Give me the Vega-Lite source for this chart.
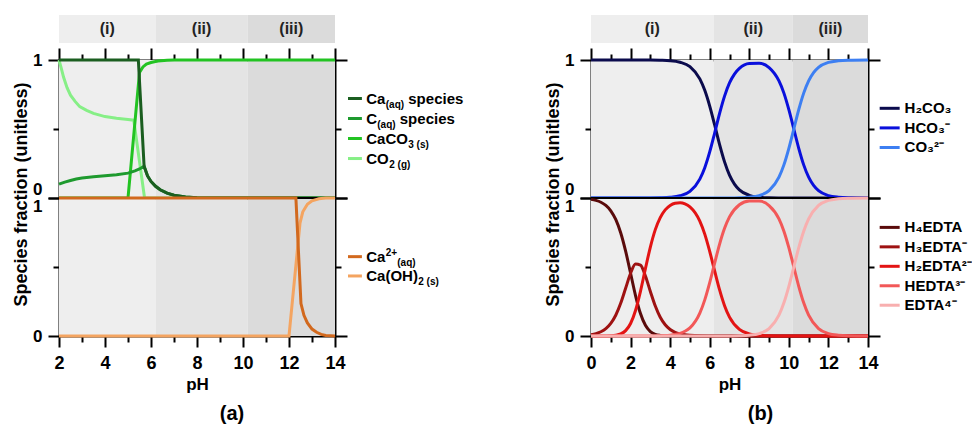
{
"$schema":"https://vega.github.io/schema/vega-lite/v6.json",
"background":"white",
"padding":{"left":12,"top":15,"right":5,"bottom":5},
"config":{
 "font":"Liberation Sans",
 "view":{"stroke":null},
 "legend":{"disable":true},
 "axis":{"grid":false,"zindex":1,"domainColor":"black","domainWidth":2,"tickColor":"black","tickWidth":2,"labelColor":"black","labelFont":"Liberation Sans","labelFontWeight":"bold","labelFontSize":17,"labelFlush":false,"labelOverlap":false,"titleColor":"black","titleFont":"Liberation Sans","titleFontWeight":"bold","titleFontSize":17},
 "title":{"font":"Liberation Sans","fontWeight":"bold","fontSize":20,"color":"black"}
},
"datasets":{
 "regA":[{"region":"(i)","start":2,"end":6.2},{"region":"(ii)","start":6.2,"end":10.2},{"region":"(iii)","start":10.2,"end":14}],
 "regB":[{"region":"(i)","start":0,"end":6.2},{"region":"(ii)","start":6.2,"end":10.2},{"region":"(iii)","start":10.2,"end":14}],
 "aTop":[
  {"s":"CO2(g)","pH":2,"f":1},{"s":"CO2(g)","pH":2.1,"f":0.94},{"s":"CO2(g)","pH":2.2,"f":0.875},{"s":"CO2(g)","pH":2.35,"f":0.8},{"s":"CO2(g)","pH":2.5,"f":0.745},{"s":"CO2(g)","pH":2.7,"f":0.7},{"s":"CO2(g)","pH":2.9,"f":0.662},{"s":"CO2(g)","pH":3.2,"f":0.635},{"s":"CO2(g)","pH":3.5,"f":0.613},{"s":"CO2(g)","pH":4,"f":0.59},{"s":"CO2(g)","pH":4.5,"f":0.578},{"s":"CO2(g)","pH":5,"f":0.569},{"s":"CO2(g)","pH":5.25,"f":0.564},{"s":"CO2(g)","pH":5.72,"f":0},{"s":"CO2(g)","pH":14,"f":0},
  {"s":"CaCO3(s)","pH":2,"f":0},{"s":"CaCO3(s)","pH":5,"f":0},{"s":"CaCO3(s)","pH":5.5,"f":0.91},{"s":"CaCO3(s)","pH":5.65,"f":0.95},{"s":"CaCO3(s)","pH":5.8,"f":0.97},{"s":"CaCO3(s)","pH":6,"f":0.982},{"s":"CaCO3(s)","pH":6.3,"f":0.993},{"s":"CaCO3(s)","pH":6.7,"f":0.998},{"s":"CaCO3(s)","pH":7,"f":1},{"s":"CaCO3(s)","pH":14,"f":1},
  {"s":"C(aq) species","pH":2,"f":0.1},{"s":"C(aq) species","pH":2.25,"f":0.115},{"s":"C(aq) species","pH":2.5,"f":0.127},{"s":"C(aq) species","pH":2.75,"f":0.138},{"s":"C(aq) species","pH":3,"f":0.145},{"s":"C(aq) species","pH":3.5,"f":0.154},{"s":"C(aq) species","pH":4,"f":0.161},{"s":"C(aq) species","pH":4.5,"f":0.168},{"s":"C(aq) species","pH":5,"f":0.18},{"s":"C(aq) species","pH":5.3,"f":0.197},{"s":"C(aq) species","pH":5.5,"f":0.21},{"s":"C(aq) species","pH":5.7,"f":0.23},{"s":"C(aq) species","pH":5.85,"f":0.16},{"s":"C(aq) species","pH":6,"f":0.12},{"s":"C(aq) species","pH":6.2,"f":0.085},{"s":"C(aq) species","pH":6.4,"f":0.06},{"s":"C(aq) species","pH":6.7,"f":0.035},{"s":"C(aq) species","pH":7,"f":0.02},{"s":"C(aq) species","pH":7.5,"f":0.007},{"s":"C(aq) species","pH":8,"f":0.002},{"s":"C(aq) species","pH":9,"f":0},{"s":"C(aq) species","pH":14,"f":0},
  {"s":"Ca(aq) species","pH":2,"f":1},{"s":"Ca(aq) species","pH":5.45,"f":1},{"s":"Ca(aq) species","pH":5.7,"f":0.23},{"s":"Ca(aq) species","pH":5.85,"f":0.16},{"s":"Ca(aq) species","pH":6,"f":0.12},{"s":"Ca(aq) species","pH":6.2,"f":0.085},{"s":"Ca(aq) species","pH":6.4,"f":0.06},{"s":"Ca(aq) species","pH":6.7,"f":0.035},{"s":"Ca(aq) species","pH":7,"f":0.02},{"s":"Ca(aq) species","pH":7.5,"f":0.007},{"s":"Ca(aq) species","pH":8,"f":0.002},{"s":"Ca(aq) species","pH":9,"f":0},{"s":"Ca(aq) species","pH":14,"f":0}
 ],
 "aBot":[
  {"s":"Ca(OH)2(s)","pH":2,"f":0},{"s":"Ca(OH)2(s)","pH":12,"f":0},{"s":"Ca(OH)2(s)","pH":12.48,"f":0.82},{"s":"Ca(OH)2(s)","pH":12.6,"f":0.9},{"s":"Ca(OH)2(s)","pH":12.8,"f":0.955},{"s":"Ca(OH)2(s)","pH":13,"f":0.98},{"s":"Ca(OH)2(s)","pH":13.3,"f":0.995},{"s":"Ca(OH)2(s)","pH":13.6,"f":1},{"s":"Ca(OH)2(s)","pH":14,"f":1},
  {"s":"Ca2+(aq)","pH":2,"f":1},{"s":"Ca2+(aq)","pH":12.3,"f":1},{"s":"Ca2+(aq)","pH":12.52,"f":0.235},{"s":"Ca2+(aq)","pH":12.65,"f":0.15},{"s":"Ca2+(aq)","pH":12.8,"f":0.095},{"s":"Ca2+(aq)","pH":13,"f":0.05},{"s":"Ca2+(aq)","pH":13.2,"f":0.027},{"s":"Ca2+(aq)","pH":13.4,"f":0.012},{"s":"Ca2+(aq)","pH":13.6,"f":0.004},{"s":"Ca2+(aq)","pH":14,"f":0}
 ],
 "bTop":[
  {"s":"H2CO3","pH":0,"f":1},{"s":"H2CO3","pH":1,"f":1},{"s":"H2CO3","pH":2,"f":1},{"s":"H2CO3","pH":3,"f":0.9995},{"s":"H2CO3","pH":3.5,"f":0.998},{"s":"H2CO3","pH":4,"f":0.995},{"s":"H2CO3","pH":4.5,"f":0.984},{"s":"H2CO3","pH":5,"f":0.952},{"s":"H2CO3","pH":5.5,"f":0.863},{"s":"H2CO3","pH":5.75,"f":0.78},{"s":"H2CO3","pH":6,"f":0.666},{"s":"H2CO3","pH":6.25,"f":0.529},{"s":"H2CO3","pH":6.5,"f":0.387},{"s":"H2CO3","pH":6.75,"f":0.262},{"s":"H2CO3","pH":7,"f":0.166},{"s":"H2CO3","pH":7.25,"f":0.101},{"s":"H2CO3","pH":7.5,"f":0.059},{"s":"H2CO3","pH":8,"f":0.0196},{"s":"H2CO3","pH":8.5,"f":0.0063},{"s":"H2CO3","pH":9,"f":0.002},{"s":"H2CO3","pH":9.5,"f":0.0006},{"s":"H2CO3","pH":10,"f":0.0002},{"s":"H2CO3","pH":11,"f":0},{"s":"H2CO3","pH":14,"f":0},
  {"s":"HCO3-","pH":0,"f":0},{"s":"HCO3-","pH":2,"f":0},{"s":"HCO3-","pH":3,"f":0.0005},{"s":"HCO3-","pH":3.5,"f":0.0016},{"s":"HCO3-","pH":4,"f":0.005},{"s":"HCO3-","pH":4.5,"f":0.016},{"s":"HCO3-","pH":5,"f":0.048},{"s":"HCO3-","pH":5.5,"f":0.137},{"s":"HCO3-","pH":5.75,"f":0.22},{"s":"HCO3-","pH":6,"f":0.334},{"s":"HCO3-","pH":6.25,"f":0.471},{"s":"HCO3-","pH":6.5,"f":0.613},{"s":"HCO3-","pH":6.75,"f":0.738},{"s":"HCO3-","pH":7,"f":0.834},{"s":"HCO3-","pH":7.25,"f":0.898},{"s":"HCO3-","pH":7.5,"f":0.939},{"s":"HCO3-","pH":8,"f":0.975},{"s":"HCO3-","pH":8.5,"f":0.976},{"s":"HCO3-","pH":9,"f":0.945},{"s":"HCO3-","pH":9.5,"f":0.848},{"s":"HCO3-","pH":9.75,"f":0.76},{"s":"HCO3-","pH":10,"f":0.64},{"s":"HCO3-","pH":10.25,"f":0.5},{"s":"HCO3-","pH":10.5,"f":0.36},{"s":"HCO3-","pH":10.75,"f":0.24},{"s":"HCO3-","pH":11,"f":0.151},{"s":"HCO3-","pH":11.25,"f":0.091},{"s":"HCO3-","pH":11.5,"f":0.053},{"s":"HCO3-","pH":12,"f":0.0175},{"s":"HCO3-","pH":12.5,"f":0.0056},{"s":"HCO3-","pH":13,"f":0.0018},{"s":"HCO3-","pH":14,"f":0.0002},
  {"s":"CO3 2-","pH":0,"f":0},{"s":"CO3 2-","pH":6,"f":0},{"s":"CO3 2-","pH":7,"f":0.0003},{"s":"CO3 2-","pH":7.5,"f":0.0018},{"s":"CO3 2-","pH":8,"f":0.0056},{"s":"CO3 2-","pH":8.5,"f":0.0174},{"s":"CO3 2-","pH":9,"f":0.053},{"s":"CO3 2-","pH":9.5,"f":0.151},{"s":"CO3 2-","pH":9.75,"f":0.24},{"s":"CO3 2-","pH":10,"f":0.36},{"s":"CO3 2-","pH":10.25,"f":0.5},{"s":"CO3 2-","pH":10.5,"f":0.64},{"s":"CO3 2-","pH":10.75,"f":0.76},{"s":"CO3 2-","pH":11,"f":0.849},{"s":"CO3 2-","pH":11.25,"f":0.909},{"s":"CO3 2-","pH":11.5,"f":0.947},{"s":"CO3 2-","pH":12,"f":0.9825},{"s":"CO3 2-","pH":12.5,"f":0.9944},{"s":"CO3 2-","pH":13,"f":0.9982},{"s":"CO3 2-","pH":14,"f":0.9998}
 ],
 "bBot":[
  {"s":"H4EDTA","pH":0,"f":0.99},{"s":"H4EDTA","pH":0.25,"f":0.9825},{"s":"H4EDTA","pH":0.5,"f":0.9692},{"s":"H4EDTA","pH":0.75,"f":0.9462},{"s":"H4EDTA","pH":1,"f":0.9074},{"s":"H4EDTA","pH":1.25,"f":0.8445},{"s":"H4EDTA","pH":1.5,"f":0.7484},{"s":"H4EDTA","pH":1.75,"f":0.6152},{"s":"H4EDTA","pH":2,"f":0.4547},{"s":"H4EDTA","pH":2.25,"f":0.2933},{"s":"H4EDTA","pH":2.5,"f":0.1624},{"s":"H4EDTA","pH":2.75,"f":0.0773},{"s":"H4EDTA","pH":3,"f":0.0323},{"s":"H4EDTA","pH":3.25,"f":0.0122},{"s":"H4EDTA","pH":3.5,"f":0.0043},{"s":"H4EDTA","pH":3.75,"f":0.0014},{"s":"H4EDTA","pH":4,"f":0.0005},{"s":"H4EDTA","pH":4.5,"f":0},{"s":"H4EDTA","pH":14,"f":0},
  {"s":"H3EDTA-","pH":0,"f":0.0099},{"s":"H3EDTA-","pH":0.25,"f":0.0175},{"s":"H3EDTA-","pH":0.5,"f":0.0306},{"s":"H3EDTA-","pH":0.75,"f":0.0532},{"s":"H3EDTA-","pH":1,"f":0.0907},{"s":"H3EDTA-","pH":1.25,"f":0.1502},{"s":"H3EDTA-","pH":1.5,"f":0.2367},{"s":"H3EDTA-","pH":1.75,"f":0.3459},{"s":"H3EDTA-","pH":2,"f":0.4547},{"s":"H3EDTA-","pH":2.25,"f":0.5216},{"s":"H3EDTA-","pH":2.5,"f":0.5136},{"s":"H3EDTA-","pH":2.75,"f":0.4348},{"s":"H3EDTA-","pH":3,"f":0.3231},{"s":"H3EDTA-","pH":3.25,"f":0.2171},{"s":"H3EDTA-","pH":3.5,"f":0.136},{"s":"H3EDTA-","pH":3.75,"f":0.0814},{"s":"H3EDTA-","pH":4,"f":0.0474},{"s":"H3EDTA-","pH":4.25,"f":0.0271},{"s":"H3EDTA-","pH":4.5,"f":0.0153},{"s":"H3EDTA-","pH":4.75,"f":0.0085},{"s":"H3EDTA-","pH":5,"f":0.0047},{"s":"H3EDTA-","pH":5.5,"f":0.0013},{"s":"H3EDTA-","pH":6,"f":0.0005},{"s":"H3EDTA-","pH":7,"f":0},{"s":"H3EDTA-","pH":14,"f":0},
  {"s":"H2EDTA2-","pH":0,"f":0},{"s":"H2EDTA2-","pH":0.5,"f":0.0002},{"s":"H2EDTA2-","pH":0.75,"f":0.0006},{"s":"H2EDTA2-","pH":1,"f":0.0018},{"s":"H2EDTA2-","pH":1.25,"f":0.0053},{"s":"H2EDTA2-","pH":1.5,"f":0.0149},{"s":"H2EDTA2-","pH":1.75,"f":0.0388},{"s":"H2EDTA2-","pH":2,"f":0.0907},{"s":"H2EDTA2-","pH":2.25,"f":0.1851},{"s":"H2EDTA2-","pH":2.5,"f":0.324},{"s":"H2EDTA2-","pH":2.75,"f":0.4879},{"s":"H2EDTA2-","pH":3,"f":0.6446},{"s":"H2EDTA2-","pH":3.25,"f":0.7707},{"s":"H2EDTA2-","pH":3.5,"f":0.858},{"s":"H2EDTA2-","pH":3.75,"f":0.9138},{"s":"H2EDTA2-","pH":4,"f":0.9461},{"s":"H2EDTA2-","pH":4.25,"f":0.962},{"s":"H2EDTA2-","pH":4.5,"f":0.9654},{"s":"H2EDTA2-","pH":4.75,"f":0.9575},{"s":"H2EDTA2-","pH":5,"f":0.9362},{"s":"H2EDTA2-","pH":5.5,"f":0.8326},{"s":"H2EDTA2-","pH":5.75,"f":0.738},{"s":"H2EDTA2-","pH":6,"f":0.6129},{"s":"H2EDTA2-","pH":6.25,"f":0.4713},{"s":"H2EDTA2-","pH":6.5,"f":0.3339},{"s":"H2EDTA2-","pH":6.75,"f":0.2199},{"s":"H2EDTA2-","pH":7,"f":0.1367},{"s":"H2EDTA2-","pH":7.5,"f":0.0477},{"s":"H2EDTA2-","pH":8,"f":0.0155},{"s":"H2EDTA2-","pH":8.5,"f":0.0049},{"s":"H2EDTA2-","pH":9,"f":0.0015},{"s":"H2EDTA2-","pH":9.5,"f":0.0005},{"s":"H2EDTA2-","pH":10,"f":0},{"s":"H2EDTA2-","pH":14,"f":0},
  {"s":"HEDTA3-","pH":0,"f":0},{"s":"HEDTA3-","pH":3,"f":0},{"s":"HEDTA3-","pH":3.25,"f":0.0009},{"s":"HEDTA3-","pH":3.5,"f":0.0017},{"s":"HEDTA3-","pH":3.75,"f":0.0032},{"s":"HEDTA3-","pH":4,"f":0.006},{"s":"HEDTA3-","pH":4.25,"f":0.0108},{"s":"HEDTA3-","pH":4.5,"f":0.0193},{"s":"HEDTA3-","pH":4.75,"f":0.034},{"s":"HEDTA3-","pH":5,"f":0.0591},{"s":"HEDTA3-","pH":5.5,"f":0.1661},{"s":"HEDTA3-","pH":5.75,"f":0.262},{"s":"HEDTA3-","pH":6,"f":0.3868},{"s":"HEDTA3-","pH":6.25,"f":0.5287},{"s":"HEDTA3-","pH":6.5,"f":0.6661},{"s":"HEDTA3-","pH":6.75,"f":0.7801},{"s":"HEDTA3-","pH":7,"f":0.8628},{"s":"HEDTA3-","pH":7.5,"f":0.9508},{"s":"HEDTA3-","pH":8,"f":0.979},{"s":"HEDTA3-","pH":8.5,"f":0.9777},{"s":"HEDTA3-","pH":9,"f":0.9454},{"s":"HEDTA3-","pH":9.5,"f":0.849},{"s":"HEDTA3-","pH":9.75,"f":0.7597},{"s":"HEDTA3-","pH":10,"f":0.64},{"s":"HEDTA3-","pH":10.25,"f":0.5},{"s":"HEDTA3-","pH":10.5,"f":0.36},{"s":"HEDTA3-","pH":10.75,"f":0.2403},{"s":"HEDTA3-","pH":11,"f":0.151},{"s":"HEDTA3-","pH":11.5,"f":0.0532},{"s":"HEDTA3-","pH":12,"f":0.0175},{"s":"HEDTA3-","pH":12.5,"f":0.0056},{"s":"HEDTA3-","pH":13,"f":0.0018},{"s":"HEDTA3-","pH":14,"f":0.0002},
  {"s":"EDTA4-","pH":0,"f":0},{"s":"EDTA4-","pH":6.5,"f":0},{"s":"EDTA4-","pH":7,"f":0.0005},{"s":"EDTA4-","pH":7.5,"f":0.0017},{"s":"EDTA4-","pH":8,"f":0.0055},{"s":"EDTA4-","pH":8.5,"f":0.0174},{"s":"EDTA4-","pH":9,"f":0.0532},{"s":"EDTA4-","pH":9.5,"f":0.151},{"s":"EDTA4-","pH":9.75,"f":0.2403},{"s":"EDTA4-","pH":10,"f":0.36},{"s":"EDTA4-","pH":10.25,"f":0.5},{"s":"EDTA4-","pH":10.5,"f":0.64},{"s":"EDTA4-","pH":10.75,"f":0.7597},{"s":"EDTA4-","pH":11,"f":0.849},{"s":"EDTA4-","pH":11.5,"f":0.9468},{"s":"EDTA4-","pH":12,"f":0.9825},{"s":"EDTA4-","pH":12.5,"f":0.9944},{"s":"EDTA4-","pH":13,"f":0.9982},{"s":"EDTA4-","pH":14,"f":0.9998}
 ]
},
"columns":2,
"spacing":{"row":0,"column":256},
"bounds":"flush",
"concat":[
 {"width":276,"height":45,"data":{"name":"regA"},"layer":[
   {"mark":"rect","encoding":{"x":{"field":"start","type":"quantitative","scale":{"domain":[2,14]},"axis":null},"x2":{"field":"end"},"y":{"datum":17,"type":"quantitative","scale":{"domain":[0,45]},"axis":null},"y2":{"datum":45},"fill":{"field":"region","type":"nominal","scale":{"domain":["(i)","(ii)","(iii)"],"range":["#eeeeee","#e4e4e4","#dbdbdb"]},"legend":null}}},
   {"transform":[{"calculate":"(datum.start+datum.end)/2","as":"mid"}],"mark":{"type":"text","fontSize":16,"fontWeight":"bold","color":"#222222"},"encoding":{"x":{"field":"mid","type":"quantitative","axis":null},"y":{"datum":31,"type":"quantitative","axis":null},"text":{"field":"region"}}}
 ]},
 {"width":277,"height":45,"data":{"name":"regB"},"layer":[
   {"mark":"rect","encoding":{"x":{"field":"start","type":"quantitative","scale":{"domain":[0,14]},"axis":null},"x2":{"field":"end"},"y":{"datum":17,"type":"quantitative","scale":{"domain":[0,45]},"axis":null},"y2":{"datum":45},"fill":{"field":"region","type":"nominal","scale":{"domain":["(i)","(ii)","(iii)"],"range":["#eeeeee","#e4e4e4","#dbdbdb"]},"legend":null}}},
   {"transform":[{"calculate":"(datum.start+datum.end)/2","as":"mid"}],"mark":{"type":"text","fontSize":16,"fontWeight":"bold","color":"#222222"},"encoding":{"x":{"field":"mid","type":"quantitative","axis":null},"y":{"datum":31,"type":"quantitative","axis":null},"text":{"field":"region"}}}
 ]},
 {"width":276,"height":138,"resolve":{"axis":{"y":"independent"}},"layer":[
   {"data":{"name":"regA"},"mark":"rect","encoding":{"x":{"field":"start","type":"quantitative","scale":{"domain":[2,14]}},"x2":{"field":"end"},"fill":{"field":"region","type":"nominal","scale":{"domain":["(i)","(ii)","(iii)"],"range":["#eeeeee","#e4e4e4","#dbdbdb"]},"legend":null}}},
   {"data":{"name":"aTop"},"mark":{"type":"line","strokeWidth":3},"encoding":{
     "x":{"field":"pH","type":"quantitative","scale":{"domain":[2,14]},"axis":{"orient":"top","values":[2,3,4,5,6,7,8,9,10,11,12,13,14],"tickCount":30,"labels":false,"title":null,"tickSize":{"condition":{"test":"datum.value % 2 == 1","value":6},"value":12}}},
     "y":{"field":"f","type":"quantitative","scale":{"domain":[0,1]},"axis":{"orient":"left","values":[0,0.5,1],"labelExpr":"datum.value == 1 ? '1' : datum.value == 0 ? '0' : ''","labelOverlap":false,"labelPadding":6,"labelBaseline":{"condition":{"test":"datum.value == 0","value":"bottom"},"value":"middle"},"tickSize":{"condition":{"test":"datum.value == 0.5","value":6},"value":11},"title":"Species fraction (unitless)","titleFontSize":18,"titleY":134,"titlePadding":2}},
     "color":{"field":"s","type":"nominal","legend":null,"scale":{"domain":["Ca(aq) species","C(aq) species","CaCO3(s)","CO2(g)","Ca2+(aq)","Ca(OH)2(s)","H2CO3","HCO3-","CO3 2-","H4EDTA","H3EDTA-","H2EDTA2-","HEDTA3-","EDTA4-"],"range":["#1b5e20","#1e9a2e","#22c322","#86ef86","#d2691e","#f4a460","#0b0b4d","#0a10dc","#3d7ff2","#5a0b0b","#9e1212","#e31414","#f25858","#f8afaf"]}}}},
   {"data":{"values":[{}]},"mark":{"type":"rule","opacity":0},"encoding":{"y":{"datum":0.5,"type":"quantitative","axis":{"orient":"right","values":[0,0.5,1],"labels":false,"title":null,"tickSize":{"condition":{"test":"datum.value == 0.5","value":6},"value":12}}}}},
   {"data":{"values":[{}]},"mark":{"type":"rule","strokeWidth":3},"encoding":{"x":{"datum":14.565,"type":"quantitative"},"x2":{"datum":15.17},"y":{"datum":0.721,"type":"quantitative","axis":null},"color":{"datum":"Ca(aq) species","type":"nominal","legend":null}}},
   {"data":{"values":[{}]},"mark":{"type":"rule","strokeWidth":3},"encoding":{"x":{"datum":14.565,"type":"quantitative"},"x2":{"datum":15.17},"y":{"datum":0.576,"type":"quantitative","axis":null},"color":{"datum":"C(aq) species","type":"nominal","legend":null}}},
   {"data":{"values":[{}]},"mark":{"type":"rule","strokeWidth":3},"encoding":{"x":{"datum":14.565,"type":"quantitative"},"x2":{"datum":15.17},"y":{"datum":0.431,"type":"quantitative","axis":null},"color":{"datum":"CaCO3(s)","type":"nominal","legend":null}}},
   {"data":{"values":[{}]},"mark":{"type":"rule","strokeWidth":3},"encoding":{"x":{"datum":14.565,"type":"quantitative"},"x2":{"datum":15.17},"y":{"datum":0.286,"type":"quantitative","axis":null},"color":{"datum":"CO2(g)","type":"nominal","legend":null}}},
   {"data":{"values":[{}]},"mark":{"type":"text","align":"left","baseline":"alphabetic","dy":5.5,"fontSize":15,"fontWeight":"bold","color":"black"},"encoding":{"x":{"datum":15.36,"type":"quantitative"},"y":{"datum":0.721,"type":"quantitative","axis":null},"text":{"value":"Ca"}}},
   {"data":{"values":[{}]},"mark":{"type":"text","align":"left","baseline":"alphabetic","dx":19.5,"dy":9,"fontSize":10,"fontWeight":"bold","color":"black"},"encoding":{"x":{"datum":15.36,"type":"quantitative"},"y":{"datum":0.721,"type":"quantitative","axis":null},"text":{"value":"(aq)"}}},
   {"data":{"values":[{}]},"mark":{"type":"text","align":"left","baseline":"alphabetic","dx":42,"dy":5.5,"fontSize":15,"fontWeight":"bold","color":"black"},"encoding":{"x":{"datum":15.36,"type":"quantitative"},"y":{"datum":0.721,"type":"quantitative","axis":null},"text":{"value":"species"}}},
   {"data":{"values":[{}]},"mark":{"type":"text","align":"left","baseline":"alphabetic","dy":5.5,"fontSize":15,"fontWeight":"bold","color":"black"},"encoding":{"x":{"datum":15.36,"type":"quantitative"},"y":{"datum":0.576,"type":"quantitative","axis":null},"text":{"value":"C"}}},
   {"data":{"values":[{}]},"mark":{"type":"text","align":"left","baseline":"alphabetic","dx":11,"dy":9,"fontSize":10,"fontWeight":"bold","color":"black"},"encoding":{"x":{"datum":15.36,"type":"quantitative"},"y":{"datum":0.576,"type":"quantitative","axis":null},"text":{"value":"(aq)"}}},
   {"data":{"values":[{}]},"mark":{"type":"text","align":"left","baseline":"alphabetic","dx":33.5,"dy":5.5,"fontSize":15,"fontWeight":"bold","color":"black"},"encoding":{"x":{"datum":15.36,"type":"quantitative"},"y":{"datum":0.576,"type":"quantitative","axis":null},"text":{"value":"species"}}},
   {"data":{"values":[{}]},"mark":{"type":"text","align":"left","baseline":"alphabetic","dy":5.5,"fontSize":15,"fontWeight":"bold","color":"black"},"encoding":{"x":{"datum":15.36,"type":"quantitative"},"y":{"datum":0.431,"type":"quantitative","axis":null},"text":{"value":"CaCO"}}},
   {"data":{"values":[{}]},"mark":{"type":"text","align":"left","baseline":"alphabetic","dx":42,"dy":9,"fontSize":10,"fontWeight":"bold","color":"black"},"encoding":{"x":{"datum":15.36,"type":"quantitative"},"y":{"datum":0.431,"type":"quantitative","axis":null},"text":{"value":"3 (s)"}}},
   {"data":{"values":[{}]},"mark":{"type":"text","align":"left","baseline":"alphabetic","dy":5.5,"fontSize":15,"fontWeight":"bold","color":"black"},"encoding":{"x":{"datum":15.36,"type":"quantitative"},"y":{"datum":0.286,"type":"quantitative","axis":null},"text":{"value":"CO"}}},
   {"data":{"values":[{}]},"mark":{"type":"text","align":"left","baseline":"alphabetic","dx":23,"dy":9,"fontSize":10,"fontWeight":"bold","color":"black"},"encoding":{"x":{"datum":15.36,"type":"quantitative"},"y":{"datum":0.286,"type":"quantitative","axis":null},"text":{"value":"2 (g)"}}}
 ]},
 {"width":277,"height":138,"resolve":{"axis":{"y":"independent"}},"layer":[
   {"data":{"name":"regB"},"mark":"rect","encoding":{"x":{"field":"start","type":"quantitative","scale":{"domain":[0,14]}},"x2":{"field":"end"},"fill":{"field":"region","type":"nominal","scale":{"domain":["(i)","(ii)","(iii)"],"range":["#eeeeee","#e4e4e4","#dbdbdb"]},"legend":null}}},
   {"data":{"name":"bTop"},"mark":{"type":"line","strokeWidth":3,"interpolate":"monotone"},"encoding":{
     "x":{"field":"pH","type":"quantitative","scale":{"domain":[0,14]},"axis":{"orient":"top","values":[0,1,2,3,4,5,6,7,8,9,10,11,12,13,14],"tickCount":30,"labels":false,"title":null,"tickSize":{"condition":{"test":"datum.value % 2 == 1","value":6},"value":12}}},
     "y":{"field":"f","type":"quantitative","scale":{"domain":[0,1]},"axis":{"orient":"left","values":[0,0.5,1],"labelExpr":"datum.value == 1 ? '1' : datum.value == 0 ? '0' : ''","labelOverlap":false,"labelPadding":6,"labelBaseline":{"condition":{"test":"datum.value == 0","value":"bottom"},"value":"middle"},"tickSize":{"condition":{"test":"datum.value == 0.5","value":6},"value":11},"title":"Species fraction (unitless)","titleFontSize":18,"titleY":134,"titlePadding":2}},
     "color":{"field":"s","type":"nominal","legend":null,"scale":{"domain":["Ca(aq) species","C(aq) species","CaCO3(s)","CO2(g)","Ca2+(aq)","Ca(OH)2(s)","H2CO3","HCO3-","CO3 2-","H4EDTA","H3EDTA-","H2EDTA2-","HEDTA3-","EDTA4-"],"range":["#1b5e20","#1e9a2e","#22c322","#86ef86","#d2691e","#f4a460","#0b0b4d","#0a10dc","#3d7ff2","#5a0b0b","#9e1212","#e31414","#f25858","#f8afaf"]}}}},
   {"data":{"values":[{}]},"mark":{"type":"rule","opacity":0},"encoding":{"y":{"datum":0.5,"type":"quantitative","axis":{"orient":"right","values":[0,0.5,1],"labels":false,"title":null,"tickSize":{"condition":{"test":"datum.value == 0.5","value":6},"value":12}}}}},
   {"data":{"values":[{}]},"mark":{"type":"rule","strokeWidth":3},"encoding":{"x":{"datum":14.59,"type":"quantitative"},"x2":{"datum":15.6},"y":{"datum":0.65,"type":"quantitative","axis":null},"color":{"datum":"H2CO3","type":"nominal","legend":null}}},
   {"data":{"values":[{}]},"mark":{"type":"rule","strokeWidth":3},"encoding":{"x":{"datum":14.59,"type":"quantitative"},"x2":{"datum":15.6},"y":{"datum":0.508,"type":"quantitative","axis":null},"color":{"datum":"HCO3-","type":"nominal","legend":null}}},
   {"data":{"values":[{}]},"mark":{"type":"rule","strokeWidth":3},"encoding":{"x":{"datum":14.59,"type":"quantitative"},"x2":{"datum":15.6},"y":{"datum":0.366,"type":"quantitative","axis":null},"color":{"datum":"CO3 2-","type":"nominal","legend":null}}},
   {"data":{"values":[{}]},"mark":{"type":"text","align":"left","baseline":"middle","fontSize":15,"fontWeight":"bold","color":"black"},"encoding":{"x":{"datum":15.85,"type":"quantitative"},"y":{"datum":0.65,"type":"quantitative","axis":null},"text":{"value":"H₂CO₃"}}},
   {"data":{"values":[{}]},"mark":{"type":"text","align":"left","baseline":"middle","fontSize":15,"fontWeight":"bold","color":"black"},"encoding":{"x":{"datum":15.85,"type":"quantitative"},"y":{"datum":0.508,"type":"quantitative","axis":null},"text":{"value":"HCO₃⁻"}}},
   {"data":{"values":[{}]},"mark":{"type":"text","align":"left","baseline":"middle","fontSize":15,"fontWeight":"bold","color":"black"},"encoding":{"x":{"datum":15.85,"type":"quantitative"},"y":{"datum":0.366,"type":"quantitative","axis":null},"text":{"value":"CO₃²⁻"}}}
 ]},
 {"width":276,"height":138,"resolve":{"axis":{"y":"independent"}},
  "title":{"text":"(a)","orient":"bottom","anchor":"middle","frame":"group","offset":12,"dx":35},
  "layer":[
   {"data":{"name":"regA"},"mark":"rect","encoding":{"x":{"field":"start","type":"quantitative","scale":{"domain":[2,14]}},"x2":{"field":"end"},"fill":{"field":"region","type":"nominal","scale":{"domain":["(i)","(ii)","(iii)"],"range":["#eeeeee","#e4e4e4","#dbdbdb"]},"legend":null}}},
   {"data":{"values":[{}]},"mark":{"type":"rule","color":"black","strokeWidth":2},"encoding":{"y":{"datum":1,"type":"quantitative","axis":null}}},
   {"data":{"name":"aBot"},"mark":{"type":"line","strokeWidth":3},"encoding":{
     "x":{"field":"pH","type":"quantitative","scale":{"domain":[2,14]},"axis":{"orient":"bottom","values":[2,3,4,5,6,7,8,9,10,11,12,13,14],"tickCount":30,"format":"d","labelOpacity":{"condition":{"test":"datum.value % 2 == 1","value":0},"value":1},"labelOverlap":false,"labelFontSize":18,"labelPadding":7,"title":"pH","titlePadding":4,"tickSize":{"condition":{"test":"datum.value % 2 == 1","value":6},"value":11}}},
     "y":{"field":"f","type":"quantitative","scale":{"domain":[0,1]},"axis":{"orient":"left","values":[0,0.5,1],"labelExpr":"datum.value == 1 ? '1' : datum.value == 0 ? '0' : ''","labelOverlap":false,"labelPadding":6,"labelBaseline":{"condition":{"test":"datum.value == 1","value":"top"},"value":"middle"},"tickSize":{"condition":{"test":"datum.value == 0.5","value":6},"value":11},"title":null}},
     "color":{"field":"s","type":"nominal","legend":null,"scale":{"domain":["Ca(aq) species","C(aq) species","CaCO3(s)","CO2(g)","Ca2+(aq)","Ca(OH)2(s)","H2CO3","HCO3-","CO3 2-","H4EDTA","H3EDTA-","H2EDTA2-","HEDTA3-","EDTA4-"],"range":["#1b5e20","#1e9a2e","#22c322","#86ef86","#d2691e","#f4a460","#0b0b4d","#0a10dc","#3d7ff2","#5a0b0b","#9e1212","#e31414","#f25858","#f8afaf"]}}}},
   {"data":{"values":[{}]},"mark":{"type":"rule","opacity":0},"encoding":{"y":{"datum":0.5,"type":"quantitative","axis":{"orient":"right","values":[0,0.5,1],"labels":false,"title":null,"tickSize":{"condition":{"test":"datum.value == 0.5","value":6},"value":12}}}}},
   {"data":{"values":[{}]},"mark":{"type":"rule","strokeWidth":3},"encoding":{"x":{"datum":14.565,"type":"quantitative"},"x2":{"datum":15.17},"y":{"datum":0.575,"type":"quantitative","axis":null},"color":{"datum":"Ca2+(aq)","type":"nominal","legend":null}}},
   {"data":{"values":[{}]},"mark":{"type":"rule","strokeWidth":3},"encoding":{"x":{"datum":14.565,"type":"quantitative"},"x2":{"datum":15.17},"y":{"datum":0.435,"type":"quantitative","axis":null},"color":{"datum":"Ca(OH)2(s)","type":"nominal","legend":null}}},
   {"data":{"values":[{}]},"mark":{"type":"text","align":"left","baseline":"alphabetic","dy":5.5,"fontSize":15,"fontWeight":"bold","color":"black"},"encoding":{"x":{"datum":15.36,"type":"quantitative"},"y":{"datum":0.575,"type":"quantitative","axis":null},"text":{"value":"Ca"}}},
   {"data":{"values":[{}]},"mark":{"type":"text","align":"left","baseline":"alphabetic","dx":19.5,"dy":-0.5,"fontSize":10,"fontWeight":"bold","color":"black"},"encoding":{"x":{"datum":15.36,"type":"quantitative"},"y":{"datum":0.575,"type":"quantitative","axis":null},"text":{"value":"2+"}}},
   {"data":{"values":[{}]},"mark":{"type":"text","align":"left","baseline":"alphabetic","dx":31,"dy":9,"fontSize":10,"fontWeight":"bold","color":"black"},"encoding":{"x":{"datum":15.36,"type":"quantitative"},"y":{"datum":0.575,"type":"quantitative","axis":null},"text":{"value":"(aq)"}}},
   {"data":{"values":[{}]},"mark":{"type":"text","align":"left","baseline":"alphabetic","dy":5.5,"fontSize":15,"fontWeight":"bold","color":"black"},"encoding":{"x":{"datum":15.36,"type":"quantitative"},"y":{"datum":0.435,"type":"quantitative","axis":null},"text":{"value":"Ca(OH)"}}},
   {"data":{"values":[{}]},"mark":{"type":"text","align":"left","baseline":"alphabetic","dx":52,"dy":9,"fontSize":10,"fontWeight":"bold","color":"black"},"encoding":{"x":{"datum":15.36,"type":"quantitative"},"y":{"datum":0.435,"type":"quantitative","axis":null},"text":{"value":"2 (s)"}}}
 ]},
 {"width":277,"height":138,"resolve":{"axis":{"y":"independent"}},
  "title":{"text":"(b)","orient":"bottom","anchor":"middle","frame":"group","offset":12,"dx":31},
  "layer":[
   {"data":{"name":"regB"},"mark":"rect","encoding":{"x":{"field":"start","type":"quantitative","scale":{"domain":[0,14]}},"x2":{"field":"end"},"fill":{"field":"region","type":"nominal","scale":{"domain":["(i)","(ii)","(iii)"],"range":["#eeeeee","#e4e4e4","#dbdbdb"]},"legend":null}}},
   {"data":{"values":[{}]},"mark":{"type":"rule","color":"black","strokeWidth":2},"encoding":{"y":{"datum":1,"type":"quantitative","axis":null}}},
   {"data":{"name":"bBot"},"mark":{"type":"line","strokeWidth":3,"interpolate":"monotone"},"encoding":{
     "x":{"field":"pH","type":"quantitative","scale":{"domain":[0,14]},"axis":{"orient":"bottom","values":[0,1,2,3,4,5,6,7,8,9,10,11,12,13,14],"tickCount":30,"format":"d","labelOpacity":{"condition":{"test":"datum.value % 2 == 1","value":0},"value":1},"labelOverlap":false,"labelFontSize":18,"labelPadding":7,"title":"pH","titlePadding":4,"tickSize":{"condition":{"test":"datum.value % 2 == 1","value":6},"value":11}}},
     "y":{"field":"f","type":"quantitative","scale":{"domain":[0,1]},"axis":{"orient":"left","values":[0,0.5,1],"labelExpr":"datum.value == 1 ? '1' : datum.value == 0 ? '0' : ''","labelOverlap":false,"labelPadding":6,"labelBaseline":{"condition":{"test":"datum.value == 1","value":"top"},"value":"middle"},"tickSize":{"condition":{"test":"datum.value == 0.5","value":6},"value":11},"title":null}},
     "color":{"field":"s","type":"nominal","legend":null,"scale":{"domain":["Ca(aq) species","C(aq) species","CaCO3(s)","CO2(g)","Ca2+(aq)","Ca(OH)2(s)","H2CO3","HCO3-","CO3 2-","H4EDTA","H3EDTA-","H2EDTA2-","HEDTA3-","EDTA4-"],"range":["#1b5e20","#1e9a2e","#22c322","#86ef86","#d2691e","#f4a460","#0b0b4d","#0a10dc","#3d7ff2","#5a0b0b","#9e1212","#e31414","#f25858","#f8afaf"]}}}},
   {"data":{"values":[{}]},"mark":{"type":"rule","opacity":0},"encoding":{"y":{"datum":0.5,"type":"quantitative","axis":{"orient":"right","values":[0,0.5,1],"labels":false,"title":null,"tickSize":{"condition":{"test":"datum.value == 0.5","value":6},"value":12}}}}},
   {"data":{"values":[{}]},"mark":{"type":"rule","strokeWidth":3},"encoding":{"x":{"datum":14.59,"type":"quantitative"},"x2":{"datum":15.6},"y":{"datum":0.787,"type":"quantitative","axis":null},"color":{"datum":"H4EDTA","type":"nominal","legend":null}}},
   {"data":{"values":[{}]},"mark":{"type":"rule","strokeWidth":3},"encoding":{"x":{"datum":14.59,"type":"quantitative"},"x2":{"datum":15.6},"y":{"datum":0.646,"type":"quantitative","axis":null},"color":{"datum":"H3EDTA-","type":"nominal","legend":null}}},
   {"data":{"values":[{}]},"mark":{"type":"rule","strokeWidth":3},"encoding":{"x":{"datum":14.59,"type":"quantitative"},"x2":{"datum":15.6},"y":{"datum":0.505,"type":"quantitative","axis":null},"color":{"datum":"H2EDTA2-","type":"nominal","legend":null}}},
   {"data":{"values":[{}]},"mark":{"type":"rule","strokeWidth":3},"encoding":{"x":{"datum":14.59,"type":"quantitative"},"x2":{"datum":15.6},"y":{"datum":0.364,"type":"quantitative","axis":null},"color":{"datum":"HEDTA3-","type":"nominal","legend":null}}},
   {"data":{"values":[{}]},"mark":{"type":"rule","strokeWidth":3},"encoding":{"x":{"datum":14.59,"type":"quantitative"},"x2":{"datum":15.6},"y":{"datum":0.223,"type":"quantitative","axis":null},"color":{"datum":"EDTA4-","type":"nominal","legend":null}}},
   {"data":{"values":[{}]},"mark":{"type":"text","align":"left","baseline":"middle","fontSize":15,"fontWeight":"bold","color":"black"},"encoding":{"x":{"datum":15.85,"type":"quantitative"},"y":{"datum":0.787,"type":"quantitative","axis":null},"text":{"value":"H₄EDTA"}}},
   {"data":{"values":[{}]},"mark":{"type":"text","align":"left","baseline":"middle","fontSize":15,"fontWeight":"bold","color":"black"},"encoding":{"x":{"datum":15.85,"type":"quantitative"},"y":{"datum":0.646,"type":"quantitative","axis":null},"text":{"value":"H₃EDTA⁻"}}},
   {"data":{"values":[{}]},"mark":{"type":"text","align":"left","baseline":"middle","fontSize":15,"fontWeight":"bold","color":"black"},"encoding":{"x":{"datum":15.85,"type":"quantitative"},"y":{"datum":0.505,"type":"quantitative","axis":null},"text":{"value":"H₂EDTA²⁻"}}},
   {"data":{"values":[{}]},"mark":{"type":"text","align":"left","baseline":"middle","fontSize":15,"fontWeight":"bold","color":"black"},"encoding":{"x":{"datum":15.85,"type":"quantitative"},"y":{"datum":0.364,"type":"quantitative","axis":null},"text":{"value":"HEDTA³⁻"}}},
   {"data":{"values":[{}]},"mark":{"type":"text","align":"left","baseline":"middle","fontSize":15,"fontWeight":"bold","color":"black"},"encoding":{"x":{"datum":15.85,"type":"quantitative"},"y":{"datum":0.223,"type":"quantitative","axis":null},"text":{"value":"EDTA⁴⁻"}}}
 ]}
]
}
